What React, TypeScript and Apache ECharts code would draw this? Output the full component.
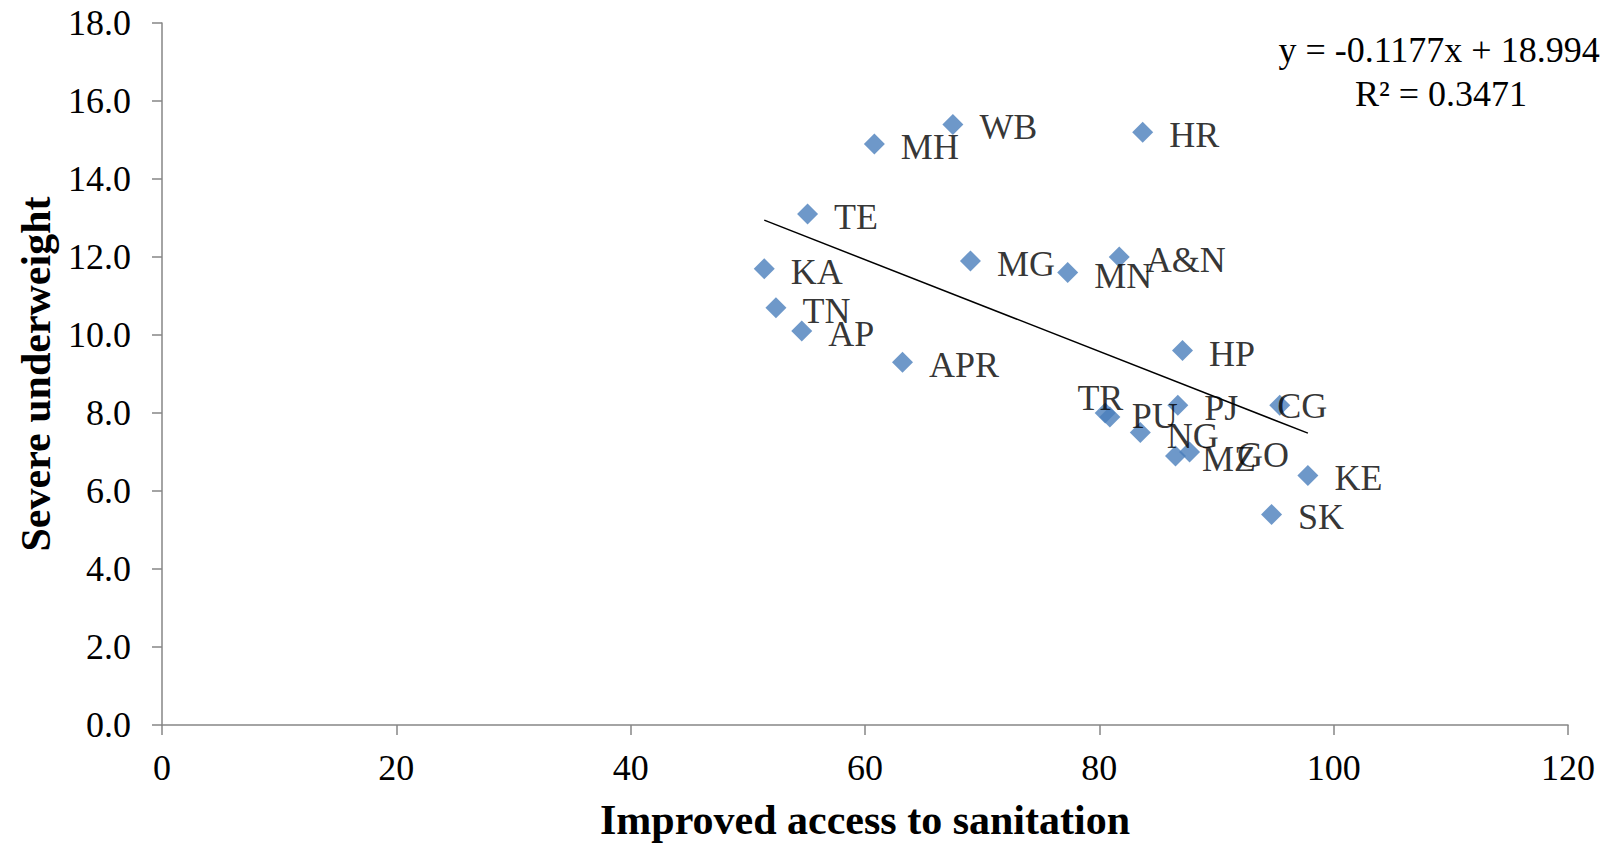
import React, { useEffect, useRef } from "react";
import * as echarts from "echarts";

// States / UTs
const stateCodes = [
  "WB", "MH", "HR", "TE", "KA", "MG", "MN", "A&N", "TN", "AP", "APR",
  "HP", "PU", "TR", "PJ", "CG", "NG", "MZ", "GO", "KE", "SK",
];
// Improved access to sanitation (%)
const sanitationAccess = [
  67.5, 60.8, 83.7, 55.1, 51.4, 69.0, 77.3, 81.7, 52.4, 54.6, 63.2,
  87.1, 80.5, 80.9, 86.7, 95.4, 83.5, 86.5, 87.7, 97.8, 94.7,
];
// Severe underweight (%)
const severeUnderweight = [
  15.4, 14.9, 15.2, 13.1, 11.7, 11.9, 11.6, 12.0, 10.7, 10.1, 9.3,
  9.6, 8.0, 7.9, 8.2, 8.2, 7.5, 6.9, 7.0, 6.4, 5.4,
];

// Linear trend line
const trendSlope = -0.1177;
const trendIntercept = 18.994;
const rSquared = 0.3471;

const xTicks = { min: 0, max: 120, interval: 20 };
const yTicks = { min: 0, max: 18, interval: 2 };

// Label offsets (pixels); crowded points get hand-placed nudges
const defaultLabelOffset: [number, number] = [0, 3];
const labelNudge: Record<string, [number, number]> = {
  TR: [-59, -19],
  CG: [-29, 1],
  GO: [21, 3],
};

const FONT = '"Liberation Serif", "Times New Roman", serif';
const AXIS_GREY = "#868686";

export default function App() {
  const ref = useRef<HTMLDivElement>(null);

  useEffect(() => {
    if (!ref.current) return;
    const chart = echarts.init(ref.current, undefined, { renderer: "svg" });

    const points = stateCodes.map((code, i) => ({
      name: code,
      value: [sanitationAccess[i], severeUnderweight[i]],
      label: { offset: labelNudge[code] ?? defaultLabelOffset },
    }));

    const xMin = Math.min(...sanitationAccess);
    const xMax = Math.max(...sanitationAccess);
    const trend = [
      [xMin, trendSlope * xMin + trendIntercept],
      [xMax, trendSlope * xMax + trendIntercept],
    ];

    chart.setOption({
      animation: false,
      backgroundColor: "#ffffff",
      textStyle: { fontFamily: FONT },
      grid: { left: 162, right: 42, top: 23, bottom: 123, containLabel: false },
      xAxis: {
        type: "value",
        min: xTicks.min,
        max: xTicks.max,
        interval: xTicks.interval,
        name: "Improved access to sanitation",
        nameLocation: "middle",
        nameGap: 74,
        nameTextStyle: { fontFamily: FONT, fontSize: 42, fontWeight: "bold", color: "#000" },
        axisLine: { show: true, lineStyle: { color: AXIS_GREY, width: 1.5 } },
        axisTick: { show: true, inside: false, length: 10, lineStyle: { color: AXIS_GREY, width: 1.5 } },
        axisLabel: { fontFamily: FONT, fontSize: 36, color: "#000", margin: 25 },
        splitLine: { show: false },
      },
      yAxis: {
        type: "value",
        min: yTicks.min,
        max: yTicks.max,
        interval: yTicks.interval,
        name: "Severe underweight",
        nameLocation: "middle",
        nameGap: 105,
        nameRotate: 90,
        nameTextStyle: { fontFamily: FONT, fontSize: 42, fontWeight: "bold", color: "#000" },
        axisLine: { show: true, lineStyle: { color: AXIS_GREY, width: 1.5 } },
        axisTick: { show: true, inside: false, length: 10, lineStyle: { color: AXIS_GREY, width: 1.5 } },
        axisLabel: {
          fontFamily: FONT,
          fontSize: 36,
          color: "#000",
          margin: 31,
          formatter: (v: number) => v.toFixed(1),
        },
        splitLine: { show: false },
      },
      series: [
        {
          type: "line",
          data: trend,
          showSymbol: false,
          symbol: "none",
          lineStyle: { color: "#000", width: 1.5 },
          silent: true,
          z: 1,
        },
        {
          type: "scatter",
          data: points,
          symbol: "diamond",
          symbolSize: 21,
          itemStyle: { color: "#4A7EBB" },
          z: 2,
          label: {
            show: true,
            position: "right",
            distance: 16,
            formatter: (p: any) => p.name,
            fontFamily: FONT,
            fontSize: 36,
            color: "#000",
          },
        },
      ],
      graphic: [
        {
          type: "text",
          x: 1439,
          y: 50,
          style: {
            text: `y = ${trendSlope}x + ${trendIntercept}`,
            font: `36px ${FONT}`,
            fill: "#000",
            textAlign: "center",
            textVerticalAlign: "middle",
          },
        },
        {
          type: "text",
          x: 1441,
          y: 94,
          style: {
            text: `R² = ${rSquared}`,
            font: `36px ${FONT}`,
            fill: "#000",
            textAlign: "center",
            textVerticalAlign: "middle",
          },
        },
      ],
    });

    return () => chart.dispose();
  }, []);

  return (
    <div
      ref={ref}
      style={{ position: "absolute", left: 0, top: 0, width: 1610, height: 848, background: "#fff" }}
    />
  );
}
